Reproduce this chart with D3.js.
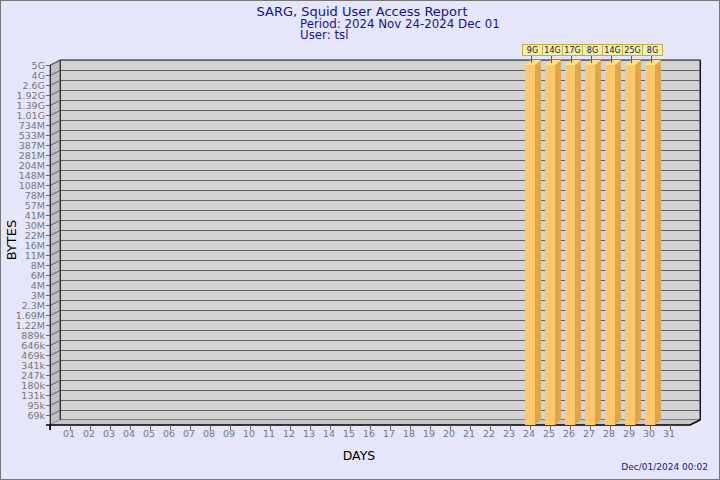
<!DOCTYPE html>
<html><head><meta charset="utf-8">
<script src="https://cdn.jsdelivr.net/npm/d3@7"></script>
<style>html,body{margin:0;padding:0;background:#e6e6fa;}svg{display:block;font-family:"DejaVu Sans",sans-serif;}</style>
</head><body>
<script>
const days = ["01","02","03","04","05","06","07","08","09","10","11","12","13","14","15","16","17","18","19","20","21","22","23","24","25","26","27","28","29","30","31"];
const yLabels = ["69k","95k","131k","180k","247k","341k","469k","646k","889k","1.22M","1.69M","2.3M","3M","4M","6M","8M","11M","16M","22M","30M","41M","57M","78M","108M","148M","204M","281M","387M","533M","734M","1.01G","1.39G","1.92G","2.6G","4G","5G"];
const barDays = ["24","25","26","27","28","29","30"];
const barValues = [9e9, 14e9, 17e9, 8e9, 14e9, 25e9, 8e9];
const barLabels = ["9G","14G","17G","8G","14G","25G","8G"];
const titleText = "SARG, Squid User Access Report";
const periodText = "Period: 2024 Nov 24-2024 Dec 01";
const userText = "User: tsl";
const dateText = "Dec/01/2024 00:02";

const W = 720, H = 480;
const svg = d3.select("body").append("svg").attr("width", W).attr("height", H);
svg.append("rect").attr("x",0.5).attr("y",0.5).attr("width",W-1).attr("height",H-1).attr("fill","#e6e6fa").attr("stroke","#777");

const mult = {k:1e3, M:1e6, G:1e9};
const yValues = yLabels.map(s => parseFloat(s) * mult[s.slice(-1)]);

const x = d3.scaleBand().domain(days).range([60, 680]);
const yIdx = d3.scaleLinear().domain([0, yLabels.length]).range([425, 65]);
const vToIdx = d3.scaleLog().domain(yValues).range(d3.range(1, yLabels.length + 1)).clamp(true);
const DX = 10, DY = 5, BDX = 6, BDY = 5;
const left = 50, right = 690;
const yTop = yIdx(yLabels.length), yBot = yIdx(0);

// back wall
svg.append("rect").attr("x", left+DX).attr("y", yTop-DY).attr("width", right-left).attr("height", yBot-yTop)
  .attr("fill","#d3d3d3").attr("stroke","#222").attr("stroke-width",1);
// left wall
svg.append("polygon").attr("points", [[left,yTop],[left+DX,yTop-DY],[left+DX,yBot-DY],[left,yBot]].join(" "))
  .attr("fill","#c0c0c0").attr("stroke","#555");
// floor
svg.append("polygon").attr("points", [[left,yBot],[left+DX,yBot-DY],[right+DX,yBot-DY],[right,yBot]].join(" "))
  .attr("fill","#c6c6c6").attr("stroke","none");

// gridlines + y ticks
const g = svg.append("g");
yLabels.forEach((lab, i) => {
  const yy = yIdx(i+1);
  g.append("line").attr("x1", left+DX).attr("x2", right+DX).attr("y1", yy-DY+0.5).attr("y2", yy-DY+0.5).attr("stroke","#626262");
  g.append("path").attr("d", `M${left-4},${yy+0.5}H${left}L${left+DX},${yy-DY+0.5}`).attr("fill","none").attr("stroke","#626262");
  g.append("text").attr("x", left-5).attr("y", yy+0.5).attr("dy","0.35em").attr("text-anchor","end")
    .attr("font-size","9.5px").attr("fill","#767676").text(lab);
});
// back wall outline on top
svg.append("line").attr("x1",left+DX+0.5).attr("x2",left+DX+0.5).attr("y1",yTop-DY).attr("y2",yBot-DY).attr("stroke","#333");
svg.append("line").attr("x1",right+DX+0.5).attr("x2",right+DX+0.5).attr("y1",yTop-DY).attr("y2",yBot-DY).attr("stroke","#111");
svg.append("line").attr("x1",left+0.5).attr("x2",left+0.5).attr("y1",yTop).attr("y2",yBot+5).attr("stroke","#333");

// floor front edge
svg.append("path").attr("d", `M${left-4},${yBot}H${right}L${right+DX},${yBot-DY}`).attr("fill","none").attr("stroke","#000").attr("stroke-width",1.6);
svg.append("line").attr("x1",left).attr("x2",left).attr("y1",yBot).attr("y2",yBot+5).attr("stroke","#000").attr("stroke-width",1.6);

// x ticks & labels
days.forEach(d => {
  const cx = x(d) + x.bandwidth()/2;
  svg.append("line").attr("x1",cx+0.5).attr("x2",cx+0.5).attr("y1",yBot).attr("y2",yBot+5).attr("stroke","#666");
  svg.append("text").attr("x",cx-1).attr("y",yBot+8.5).attr("dy","0.35em").attr("text-anchor","middle")
    .attr("font-size","9.5px").attr("fill","#767676").text(d);
});

// bars
barDays.forEach((d, i) => {
  const cx = x(d) + x.bandwidth()/2;
  const bw = 10;
  const x0 = cx - bw/2, x1 = cx + bw/2;
  const yt = yIdx(vToIdx(barValues[i]));
  svg.append("polygon").attr("points", [[x1,yt],[x1+BDX,yt-BDY],[x1+BDX,yBot-BDY],[x1,yBot]].join(" ")).attr("fill","#e0a64c");
  svg.append("polygon").attr("points", [[x0,yt],[x0+BDX,yt-BDY],[x1+BDX,yt-BDY],[x1,yt]].join(" ")).attr("fill","#ffe08c");
  svg.append("rect").attr("x",x0).attr("y",yt).attr("width",bw).attr("height",yBot-yt).attr("fill","#ffc86e");
  // label
  const bx = cx + 2;
  svg.append("line").attr("x1",cx+1.5).attr("x2",cx+1.5).attr("y1",56).attr("y2",yt-2).attr("stroke","#555");
  svg.append("rect").attr("x",bx-10+0.5).attr("y",44.5).attr("width",20).attr("height",11)
    .attr("fill","#f0f0b0").attr("stroke","#c8ac3c");
  svg.append("text").attr("x",bx+0.5).attr("y",50).attr("dy","0.35em").attr("text-anchor","middle")
    .attr("font-size","8px").attr("fill","#222").text(barLabels[i]);
});

// titles
svg.append("text").attr("x",362).attr("y",15.5).attr("text-anchor","middle").attr("font-size","13px").attr("fill","#14148c").text(titleText);
svg.append("text").attr("x",300).attr("y",27.5).attr("font-size","11.8px").attr("fill","#14148c").text(periodText);
svg.append("text").attr("x",300).attr("y",39).attr("font-size","11.8px").attr("fill","#14148c").text(userText);
svg.append("text").attr("transform","translate(16,240) rotate(-90)").attr("text-anchor","middle").attr("font-size","13px").attr("fill","#000").text("BYTES");
svg.append("text").attr("x",359).attr("y",460).attr("text-anchor","middle").attr("font-size","12.5px").attr("fill","#000").text("DAYS");
svg.append("text").attr("x",708).attr("y",470).attr("text-anchor","end").attr("font-size","9px").attr("fill","#14148c").text(dateText);
</script>
</body></html>
